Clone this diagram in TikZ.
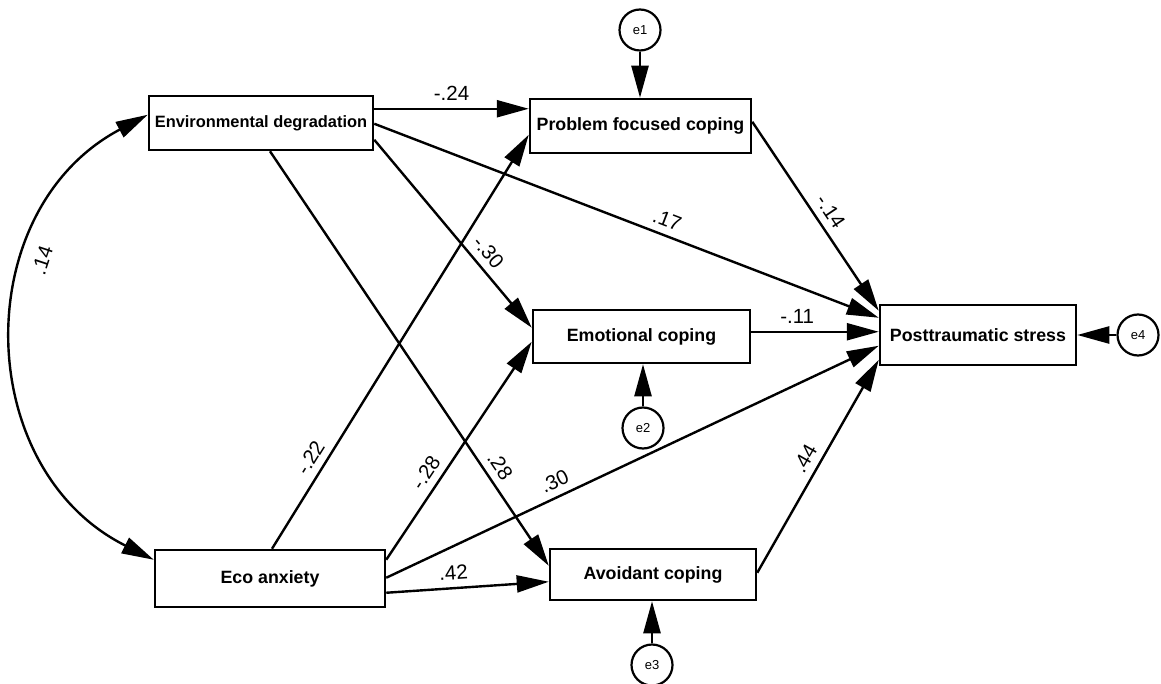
\documentclass[tikz,border=0pt]{standalone}
\usepackage{fontspec}
\setmainfont{Liberation Sans}
\usetikzlibrary{arrows.meta,calc}

\begin{document}
\begin{tikzpicture}[x=1pt, y=-1pt,
  box/.style={draw, line width=2.5pt, inner sep=0pt, font=\fontsize{17.8}{20}\selectfont\bfseries},
  res/.style={draw, circle, line width=2.2pt, inner sep=0pt, minimum size=41pt, font=\fontsize{13}{15}\selectfont},
  arr/.style={line width=2.4pt, -{Triangle[length=32pt,width=17pt]}},
  coef/.style={font=\fontsize{20.5}{23}\selectfont, inner sep=7pt, sloped}]
  \useasboundingbox (0,0) rectangle (1161,684);

  \node[box, minimum width=224pt, minimum height=54pt, font=\fontsize{16.4}{19}\selectfont\bfseries] (ed) at (261,123) {Environmental degradation};
  \node[box, minimum width=221pt, minimum height=54pt] (pfc) at (640.5,126) {Problem focused coping};
  \node[box, minimum width=217pt, minimum height=53pt] (ec) at (641.5,336.5) {Emotional coping};
  \node[box, minimum width=196pt, minimum height=60pt] (pts) at (978,335) {Posttraumatic stress};
  \node[box, minimum width=230pt, minimum height=57pt] (ea) at (270,578.5) {Eco anxiety};
  \node[box, minimum width=206pt, minimum height=51pt] (ac) at (653,574.5) {Avoidant coping};

  \foreach \nm/\ex/\ey in {e1/640/30, e2/643/428, e3/652/665, e4/1138/335}
    \node[res] (\nm) at (\ex,\ey) {\nm};

  \draw[arr] (e1) -- (e1 |- pfc.north);
  \draw[arr] (e2) -- (e2 |- ec.south);
  \draw[arr] (e3) -- (e3 |- ac.south);
  \draw[arr] (e4) -- (pts.east);

  \draw[arr] ($(ed.north east)+(0,14)$) -- node[coef, above] {-.24} ($(pfc.north west)+(0,11)$);
  \draw[arr] ($(ed.north east)+(0,29)$) -- node[coef, pos=.57, above] {.17} ($(pts.north west)+(0,14)$);
  \draw[arr] ($(ed.north east)+(0,45)$) -- node[coef, pos=.65, above] {-.30} ($(ec.north west)+(0,19)$);
  \draw[arr] ($(ed.south)+(9,0)$) -- node[coef, pos=.78, above] {.28} ($(ac.north west)+(0,18)$);

  \draw[arr] ($(ea.north)+(2,0)$) -- node[coef, pos=.2, above] {-.22} ($(pfc.north west)+(0,37)$);
  \draw[arr] ($(ea.north east)+(0,11)$) -- node[coef, pos=.36, above] {-.28} ($(ec.north west)+(0,33)$);
  \draw[arr] ($(ea.north east)+(0,29)$) -- node[coef, pos=.355, above] {.30} ($(pts.north west)+(0,42)$);
  \draw[arr] ($(ea.north east)+(0,44)$) -- node[coef, pos=.42, above] {.42} ($(ac.north west)+(0,34)$);

  \draw[arr] ($(pfc.north east)+(0,24)$) -- node[coef, pos=.52, above] {-.14} ($(pts.north west)+(0,7)$);
  \draw[arr] ($(ec.north east)+(0,23)$) -- node[coef, pos=.36, above] {-.11} ($(pts.north west)+(0,28)$);
  \draw[arr] ($(ac.north east)+(0,25)$) -- node[coef, pos=.5, above] {.44} ($(pts.north west)+(0,56)$);

  \draw[line width=2.4pt, {Triangle[length=32pt,width=17pt]}-{Triangle[length=32pt,width=17pt]}]
    ($(ed.north west)+(0,20)$) .. controls (-32,210) and (-28,469) .. ($(ea.north west)+(0,11)$)
    node[coef, pos=.34, below] {.14};
\end{tikzpicture}
\end{document}
